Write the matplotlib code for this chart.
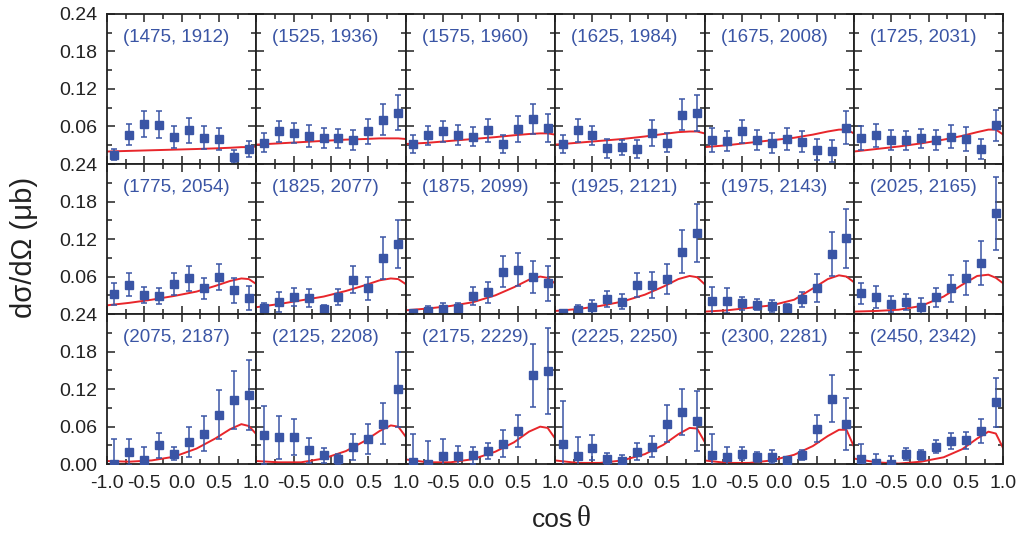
import numpy as np
import matplotlib
matplotlib.use("Agg")
import matplotlib.pyplot as plt
from matplotlib.ticker import MultipleLocator, NullFormatter

plt.rcParams['font.family'] = ['Liberation Sans', 'DejaVu Sans']

# energy labels, one per panel (row by row)
labels = ["(1475, 1912)", "(1525, 1936)", "(1575, 1960)", "(1625, 1984)", "(1675, 2008)", "(1725, 2031)",
          "(1775, 2054)", "(1825, 2077)", "(1875, 2099)", "(1925, 2121)", "(1975, 2143)", "(2025, 2165)",
          "(2075, 2187)", "(2125, 2208)", "(2175, 2229)", "(2225, 2250)", "(2300, 2281)", "(2450, 2342)"]

cos_theta = [-0.9, -0.7, -0.5, -0.3, -0.1, 0.1, 0.3, 0.5, 0.7, 0.9]

# measured cross sections (ub)
values = [
    [0.015, 0.047, 0.064, 0.063, 0.043, 0.054, 0.042, 0.040, 0.012, 0.024],
    [0.034, 0.052, 0.050, 0.045, 0.042, 0.041, 0.039, 0.052, 0.071, 0.082],
    [0.032, 0.046, 0.052, 0.046, 0.044, 0.054, 0.032, 0.056, 0.072, 0.058],
    [0.032, 0.054, 0.046, 0.025, 0.027, 0.024, 0.050, 0.034, 0.079, 0.082],
    [0.039, 0.037, 0.052, 0.038, 0.034, 0.040, 0.036, 0.023, 0.021, 0.058],
    [0.042, 0.046, 0.039, 0.038, 0.041, 0.038, 0.044, 0.040, 0.024, 0.062],
    [0.032, 0.047, 0.031, 0.029, 0.048, 0.057, 0.041, 0.059, 0.038, 0.026],
    [0.009, 0.020, 0.027, 0.026, 0.008, 0.027, 0.055, 0.041, 0.090, 0.112],
    [0.001, 0.005, 0.008, 0.009, 0.029, 0.035, 0.068, 0.071, 0.059, 0.049],
    [0.001, 0.006, 0.011, 0.024, 0.020, 0.047, 0.047, 0.056, 0.100, 0.130],
    [0.021, 0.021, 0.017, 0.015, 0.013, 0.010, 0.024, 0.042, 0.096, 0.121],
    [0.033, 0.027, 0.016, 0.019, 0.012, 0.027, 0.041, 0.058, 0.082, 0.161],
    [0.001, 0.019, 0.006, 0.030, 0.017, 0.035, 0.049, 0.079, 0.103, 0.111],
    [0.047, 0.043, 0.043, 0.022, 0.014, 0.008, 0.027, 0.041, 0.065, 0.120],
    [0.004, 0.000, 0.013, 0.013, 0.014, 0.021, 0.033, 0.053, 0.142, 0.149],
    [0.032, 0.013, 0.026, 0.008, 0.005, 0.020, 0.028, 0.065, 0.083, 0.069],
    [0.014, 0.012, 0.017, 0.011, 0.012, 0.006, 0.014, 0.057, 0.105, 0.064],
    [0.008, 0.002, 0.001, 0.016, 0.014, 0.028, 0.037, 0.038, 0.053, 0.099],
]

errors = [
    [0.009, 0.017, 0.021, 0.021, 0.018, 0.020, 0.018, 0.017, 0.011, 0.013],
    [0.015, 0.017, 0.016, 0.017, 0.016, 0.015, 0.016, 0.020, 0.025, 0.028],
    [0.015, 0.015, 0.016, 0.016, 0.015, 0.018, 0.015, 0.020, 0.024, 0.022],
    [0.015, 0.018, 0.015, 0.015, 0.012, 0.015, 0.021, 0.015, 0.025, 0.029],
    [0.019, 0.016, 0.019, 0.016, 0.016, 0.017, 0.017, 0.017, 0.018, 0.026],
    [0.019, 0.018, 0.016, 0.015, 0.015, 0.016, 0.018, 0.019, 0.016, 0.025],
    [0.018, 0.018, 0.013, 0.013, 0.017, 0.020, 0.017, 0.021, 0.020, 0.019],
    [0.009, 0.016, 0.014, 0.014, 0.007, 0.013, 0.022, 0.018, 0.034, 0.038],
    [0.005, 0.008, 0.009, 0.008, 0.014, 0.017, 0.025, 0.026, 0.026, 0.028],
    [0.005, 0.008, 0.011, 0.013, 0.012, 0.019, 0.021, 0.024, 0.035, 0.046],
    [0.022, 0.020, 0.011, 0.009, 0.009, 0.006, 0.012, 0.022, 0.035, 0.047],
    [0.017, 0.018, 0.013, 0.013, 0.013, 0.015, 0.022, 0.027, 0.035, 0.059],
    [0.040, 0.021, 0.021, 0.020, 0.011, 0.024, 0.028, 0.039, 0.046, 0.056],
    [0.046, 0.034, 0.029, 0.020, 0.012, 0.008, 0.021, 0.024, 0.033, 0.060],
    [0.044, 0.037, 0.028, 0.016, 0.013, 0.013, 0.021, 0.026, 0.050, 0.069],
    [0.069, 0.031, 0.020, 0.010, 0.010, 0.014, 0.017, 0.029, 0.037, 0.048],
    [0.035, 0.016, 0.011, 0.008, 0.010, 0.006, 0.008, 0.022, 0.038, 0.042],
    [0.024, 0.014, 0.012, 0.010, 0.008, 0.010, 0.013, 0.013, 0.019, 0.039],
]

# model curve, read at these cos(theta) values
curve_x = [-1.0, -0.7, -0.4, -0.1, 0.2, 0.45, 0.65, 0.8, 0.9, 1.0]
curves = [
    [0.020, 0.021, 0.022, 0.023, 0.024, 0.025, 0.026, 0.027, 0.027, 0.028],
    [0.031, 0.033, 0.035, 0.037, 0.039, 0.040, 0.041, 0.041, 0.041, 0.040],
    [0.032, 0.034, 0.037, 0.040, 0.043, 0.046, 0.048, 0.049, 0.049, 0.047],
    [0.031, 0.034, 0.037, 0.040, 0.044, 0.048, 0.051, 0.052, 0.052, 0.049],
    [0.027, 0.030, 0.034, 0.038, 0.042, 0.047, 0.052, 0.055, 0.055, 0.049],
    [0.020, 0.024, 0.028, 0.033, 0.039, 0.045, 0.051, 0.055, 0.055, 0.047],
    [0.014, 0.018, 0.023, 0.029, 0.036, 0.045, 0.053, 0.057, 0.056, 0.048],
    [0.011, 0.016, 0.022, 0.028, 0.037, 0.046, 0.054, 0.057, 0.056, 0.048],
    [0.006, 0.009, 0.013, 0.019, 0.030, 0.043, 0.055, 0.060, 0.058, 0.049],
    [0.005, 0.008, 0.013, 0.020, 0.031, 0.044, 0.056, 0.061, 0.059, 0.048],
    [0.004, 0.006, 0.010, 0.014, 0.023, 0.041, 0.056, 0.062, 0.060, 0.051],
    [0.004, 0.005, 0.007, 0.013, 0.028, 0.047, 0.061, 0.063, 0.058, 0.049],
    [0.005, 0.004, 0.006, 0.012, 0.025, 0.041, 0.056, 0.064, 0.061, 0.048],
    [0.005, 0.003, 0.003, 0.009, 0.021, 0.037, 0.053, 0.062, 0.060, 0.044],
    [0.0075, 0.003, 0.003, 0.008, 0.020, 0.035, 0.052, 0.060, 0.058, 0.041],
    [0.006, 0.002, 0.002, 0.006, 0.016, 0.031, 0.048, 0.058, 0.057, 0.036],
    [0.006, 0.002, 0.002, 0.006, 0.015, 0.029, 0.045, 0.055, 0.055, 0.028],
    [0.009, 0.003, 0.001, 0.004, 0.011, 0.024, 0.041, 0.052, 0.049, 0.025],
]

yticks = [0.0, 0.06, 0.12, 0.18, 0.24]
xticks = [-1.0, -0.5, 0.0, 0.5, 1.0]

blue = '#3a55a5'
red = '#e8262b'
ink = '#222222'

fig, axes = plt.subplots(3, 6, figsize=(10.28, 5.36), dpi=100)
fig.subplots_adjust(left=0.104, right=0.976, top=0.974, bottom=0.134, wspace=0, hspace=0)

for i, ax in enumerate(axes.flat):
    row, col = divmod(i, 6)
    ax.errorbar(cos_theta, values[i], yerr=errors[i], fmt='s', color=blue, ms=5.5,
                elinewidth=1.1, capsize=2.5, capthick=1.1, zorder=3)
    ax.plot(curve_x, curves[i], color=red, lw=1.4, zorder=2)
    ax.text(0.107, 0.842, labels[i], transform=ax.transAxes, color=blue,
            fontsize=13.5, va='center', ha='left')

    ax.set_xlim(-1, 1)
    ax.set_ylim(0, 0.24)
    ax.set_xticks(xticks)
    ax.set_yticks(yticks)
    ax.xaxis.set_minor_locator(MultipleLocator(0.25))
    ax.yaxis.set_minor_locator(MultipleLocator(0.03))
    ax.tick_params(which='both', direction='in', top=True, right=True, width=1.1,
                   labelsize=14, color=ink, labelcolor=ink)
    ax.tick_params(which='major', length=6)
    ax.tick_params(which='minor', length=3.5)
    ax.tick_params(axis='y', pad=7)
    ax.tick_params(axis='x', pad=8)
    for sp in ax.spines.values():
        sp.set_linewidth(1.3)
        sp.set_color(ink)

    if col == 0:
        ylabs = ['%.2f' % v for v in yticks]
        if row < 2:
            ylabs[0] = ''
        ax.set_yticklabels(ylabs)
    else:
        ax.yaxis.set_major_formatter(NullFormatter())
    if row == 2:
        xlabs = ['%.1f' % v for v in xticks]
        if col > 0:
            xlabs[0] = ''
        ax.set_xticklabels(xlabs)
    else:
        ax.xaxis.set_major_formatter(NullFormatter())

fig.text(24 / 1028, 1 - 247 / 536, 'dσ/dΩ (μb)', rotation=90, fontsize=21,
         ha='center', va='center', color=ink)
fig.text(573 / 1028, 1 - 520 / 536, 'cos', fontsize=19, ha='right', va='center', color=ink)
fig.text(577 / 1028, 1 - 519 / 536, 'θ', fontsize=21, ha='left', va='center',
         family=['Liberation Serif', 'DejaVu Serif'], color=ink)

fig.savefig('out.png', dpi=100)
